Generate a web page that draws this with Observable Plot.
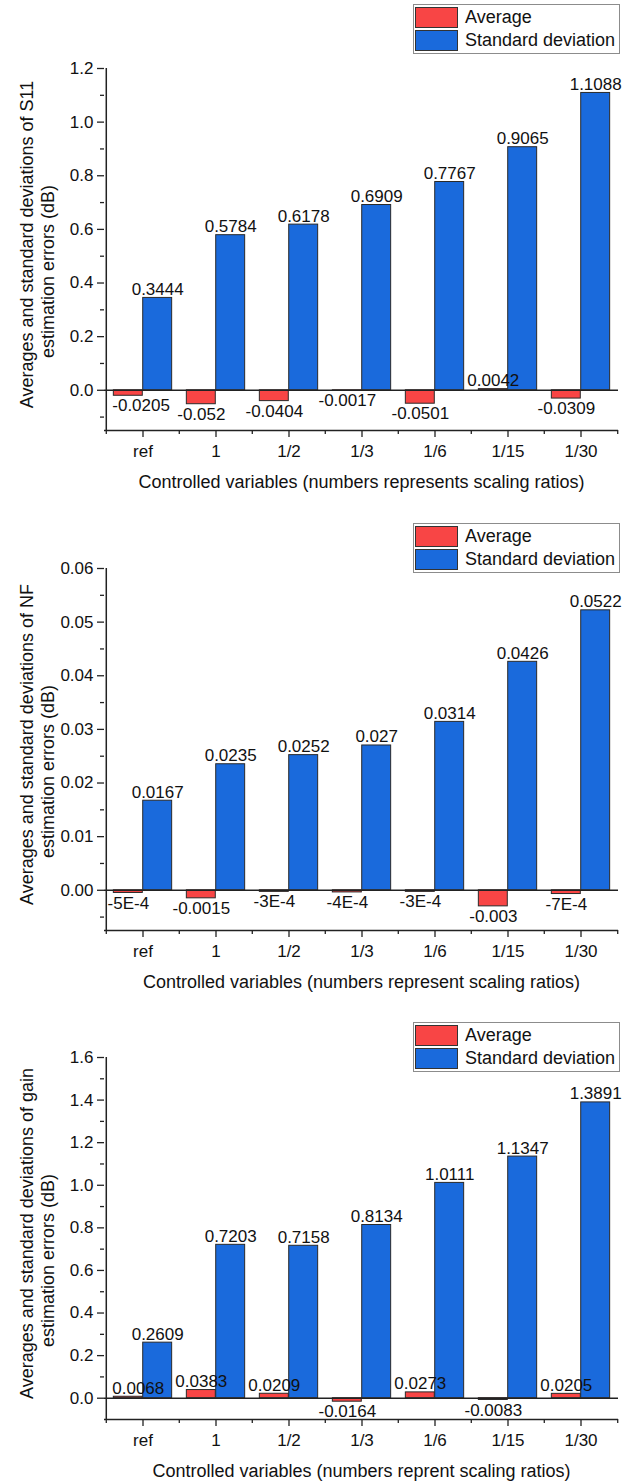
<!DOCTYPE html>
<html><head><meta charset="utf-8">
<script src="https://cdn.jsdelivr.net/npm/d3@7"></script>
<script src="https://cdn.jsdelivr.net/npm/@observablehq/plot@0.6"></script>
<style>
body{margin:0;background:#fff;}
#root{position:relative;width:634px;height:1481px;font-family:"Liberation Sans",Arial,sans-serif;color:#111;}
.panel{position:absolute;left:0;}
.legend{position:absolute;left:413px;width:207px;box-sizing:border-box;border:1px solid #8c8c8c;background:#fff;padding:2px 0 2px 1px;font-size:18px;}
.legend .row{display:flex;align-items:center;height:21px;margin:0 0 2px 0;}
.legend .row:last-child{margin-bottom:0;}
.legend .sw{display:inline-block;width:43px;height:21px;box-sizing:border-box;border:1px solid #333;margin-right:7px;}
</style>
</head><body><div id="root"></div>
<script>
const categories = ["ref", "1", "1/2", "1/3", "1/6", "1/15", "1/30"];
const seriesNames = ["Average", "Standard deviation"];

const s11Average = [-0.0205, -0.052, -0.0404, -0.0017, -0.0501, 0.0042, -0.0309];
const s11Std     = [0.3444, 0.5784, 0.6178, 0.6909, 0.7767, 0.9065, 1.1088];
const nfAverage  = [-0.0005, -0.0015, -0.0003, -0.0004, -0.0003, -0.003, -0.0007];
const nfStd      = [0.0167, 0.0235, 0.0252, 0.027, 0.0314, 0.0426, 0.0522];
const gainAverage = [0.0068, 0.0383, 0.0209, -0.0164, 0.0273, -0.0083, 0.0205];
const gainStd     = [0.2609, 0.7203, 0.7158, 0.8134, 1.0111, 1.1347, 1.3891];

const s11Ticks  = [0, 0.2, 0.4, 0.6, 0.8, 1.0, 1.2];
const s11Minor  = [-0.1, 0.1, 0.3, 0.5, 0.7, 0.9, 1.1];
const nfTicks   = [0, 0.01, 0.02, 0.03, 0.04, 0.05, 0.06];
const nfMinor   = [-0.005, 0.005, 0.015, 0.025, 0.035, 0.045, 0.055];
const gainTicks = [0, 0.2, 0.4, 0.6, 0.8, 1.0, 1.2, 1.4, 1.6];
const gainMinor = [0.1, 0.3, 0.5, 0.7, 0.9, 1.1, 1.3, 1.5];

const RED = "#F84545", BLUE = "#1A6ADC", EDGE = "#2a2a2a", AXIS = "#222";
const W = 634, ML = 104, MR = 16;
const bw = (W - ML - MR) / categories.length;

function fmtValue(v) {
  if (v !== 0 && Math.abs(v) < 0.001) return `${Math.round(v * 1e4)}E-4`;
  return String(v);
}

function valueLabels(rows, key, dx, extra = {}) {
  const base = {x: "cat", y: key, text: d => fmtValue(d[key]), dx, fontSize: 17, fill: "#111", ...extra};
  return [
    Plot.text(rows.filter(d => d[key] >= 0), {...base, dy: -3, lineAnchor: "bottom"}),
    Plot.text(rows.filter(d => d[key] < 0), {...base, dy: 3.5, lineAnchor: "top"})
  ];
}

function panel(cfg) {
  const rows = categories.map((c, i) => ({cat: c, avg: cfg.avg[i], std: cfg.std[i]}));
  const yMin = cfg.domain[0];
  const avgRows = cfg.clampFirst ? rows.slice(1) : rows;
  const marks = [
    Plot.barY(rows, {x: "cat", y: "avg", fill: RED, stroke: EDGE, strokeWidth: 1, insetLeft: bw * 0.1, insetRight: bw * 0.5}),
    Plot.barY(rows, {x: "cat", y: "std", fill: BLUE, stroke: EDGE, strokeWidth: 1, insetLeft: bw * 0.5, insetRight: bw * 0.1}),
    Plot.ruleY([0], {stroke: AXIS, strokeWidth: 1.5}),
    Plot.ruleY([yMin], {stroke: AXIS, strokeWidth: 1.5}),
    Plot.ruleX([categories[0]], {dx: -bw / 2, stroke: AXIS, strokeWidth: 1.5}),
    Plot.ruleX(categories, {x: d => d, dx: -bw / 2, y1: yMin, y2: yMin, insetBottom: -4, stroke: AXIS, strokeWidth: 1.3}),
    Plot.ruleX([categories[categories.length - 1]], {x: d => d, dx: bw / 2, y1: yMin, y2: yMin, insetBottom: -4, stroke: AXIS, strokeWidth: 1.3}),
    Plot.axisX({tickSize: 7, tickPadding: 7, fontSize: 17, label: null, stroke: AXIS, strokeWidth: 1.3}),
    Plot.axisY({ticks: cfg.ticks, tickFormat: d3.format(cfg.fmt), tickSize: 7, tickPadding: 4, fontSize: 17, label: null, stroke: AXIS, strokeWidth: 1.3}),
    Plot.axisY({ticks: cfg.minor, tickFormat: () => "", tickSize: 4, label: null, stroke: AXIS, strokeWidth: 1.3}),
    ...valueLabels(avgRows, "avg", -bw * 0.2),
    ...valueLabels(rows, "std", bw * 0.2),
    Plot.text([cfg.yTitle1], {text: d => d, frameAnchor: "left", textAnchor: "middle", lineAnchor: "middle", rotate: -90, dx: -77, dy: -5, fontSize: 18, fill: "#111"}),
    Plot.text([cfg.yTitle2], {text: d => d, frameAnchor: "left", textAnchor: "middle", lineAnchor: "middle", rotate: -90, dx: -56, dy: 22, fontSize: 18, fill: "#111"}),
    Plot.text([cfg.xTitle], {text: d => d, frameAnchor: "bottom", textAnchor: "middle", lineAnchor: "middle", dy: 52, fontSize: 18, fill: "#111"})
  ];
  if (cfg.clampFirst) {
    marks.push(...valueLabels(rows.slice(0, 1), "avg", -bw / 2 + 6, {textAnchor: "start"}));
  }
  const svg = Plot.plot({
    width: W, height: cfg.height,
    marginLeft: ML, marginRight: MR, marginTop: cfg.marginTop, marginBottom: cfg.marginBottom,
    style: {fontFamily: '"Liberation Sans", Arial, sans-serif', fontSize: "17px", color: "#111", background: "transparent", overflow: "visible"},
    x: {type: "band", domain: categories, padding: 0},
    y: {domain: cfg.domain, nice: false},
    marks
  });
  const wrap = document.createElement("div");
  wrap.className = "panel";
  wrap.style.top = cfg.top + "px";
  wrap.appendChild(svg);
  document.getElementById("root").appendChild(wrap);

  const lg = document.createElement("div");
  lg.className = "legend";
  lg.style.top = cfg.legendTop + "px";
  lg.innerHTML = seriesNames.map((n, i) =>
    `<div class="row"><span class="sw" style="background:${[RED, BLUE][i]}"></span><span>${n}</span></div>`).join("");
  document.getElementById("root").appendChild(lg);
}

panel({top: 0, height: 500, marginTop: 68, marginBottom: 70, domain: [-0.15, 1.2],
  ticks: s11Ticks, minor: s11Minor, fmt: ".1f", avg: s11Average, std: s11Std, clampFirst: true,
  yTitle1: "Averages and standard deviations of S11", yTitle2: "estimation errors (dB)",
  xTitle: "Controlled variables (numbers represents scaling ratios)", legendTop: 4});

panel({top: 500, height: 500, marginTop: 68, marginBottom: 70, domain: [-0.0075, 0.06],
  ticks: nfTicks, minor: nfMinor, fmt: ".2f", avg: nfAverage, std: nfStd, clampFirst: false,
  yTitle1: "Averages and standard deviations of NF", yTitle2: "estimation errors (dB)",
  xTitle: "Controlled variables (numbers represent scaling ratios)", legendTop: 523});

panel({top: 990, height: 491, marginTop: 67, marginBottom: 62, domain: [-0.1, 1.6],
  ticks: gainTicks, minor: gainMinor, fmt: ".1f", avg: gainAverage, std: gainStd, clampFirst: true,
  yTitle1: "Averages and standard deviations of gain", yTitle2: "estimation errors (dB)",
  xTitle: "Controlled variables (numbers reprent scaling ratios)", legendTop: 1022});
</script>
</body></html>
